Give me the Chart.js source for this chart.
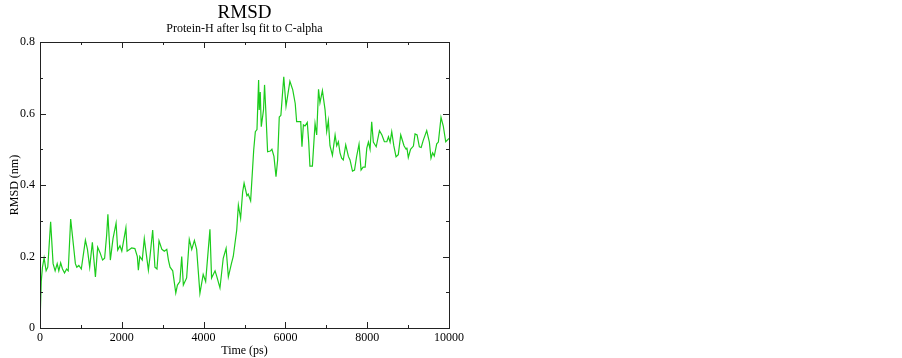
<!DOCTYPE html>
<html>
<head>
<meta charset="utf-8">
<script src="https://cdn.jsdelivr.net/npm/chart.js@4"></script>
<style>
  html, body { margin: 0; padding: 0; background: #fff; }
  #wrap { width: 902px; height: 358px; }
</style>
</head>
<body>
<div id="wrap"><canvas id="myChart" width="902" height="358"></canvas></div>
<script>
// 時間 (ps)
const times = [
  0, 30, 60, 100, 150, 190, 260, 320, 370, 420, 460, 505, 550, 600, 650, 690, 750, 865, 900, 950,
  1010, 1110, 1160, 1215, 1280, 1355, 1410, 1470, 1530, 1580, 1630, 1660, 1720, 1785, 1860, 1900, 1955, 2000, 2100, 2130,
  2240, 2320, 2380, 2405, 2440, 2500, 2550, 2650, 2690, 2755, 2810, 2860, 2910, 2980, 3040, 3100, 3140, 3180, 3245, 3320,
  3360, 3420, 3465, 3505, 3585, 3650, 3710, 3775, 3830, 3910, 3990, 4050, 4155, 4195, 4280, 4320, 4400, 4480, 4550, 4605,
  4680, 4725, 4810, 4850, 4905, 4955, 4990, 5060, 5090, 5150, 5225, 5265, 5305, 5345, 5360, 5385, 5410, 5465, 5490, 5520,
  5565, 5630, 5670, 5720, 5770, 5810, 5850, 5890, 5960, 6015, 6110, 6180, 6240, 6275, 6375, 6405, 6440, 6480, 6535, 6570,
  6600, 6660, 6700, 6725, 6765, 6810, 6845, 6905, 6970, 7010, 7050, 7090, 7150, 7215, 7255, 7295, 7335, 7375, 7415, 7475,
  7540, 7580, 7640, 7690, 7740, 7800, 7850, 7900, 7950, 7990, 8030, 8070, 8110, 8150, 8220, 8300, 8360, 8420, 8480, 8520,
  8560, 8600, 8650, 8705, 8760, 8820, 8900, 8950, 8970, 9005, 9060, 9130, 9170, 9220, 9275, 9320, 9370, 9455, 9520, 9560,
  9600, 9640, 9700, 9740, 9805, 9860, 9920, 10000
];

// RMSD (nm)
const rmsd = [
  0.01, 0.13, 0.17, 0.196, 0.16, 0.17, 0.297, 0.18, 0.16, 0.18, 0.16, 0.182, 0.165, 0.154, 0.165, 0.16, 0.305, 0.18, 0.17, 0.175,
  0.165, 0.246, 0.22, 0.17, 0.24, 0.143, 0.226, 0.21, 0.19, 0.195, 0.26, 0.318, 0.19, 0.25, 0.293, 0.218, 0.23, 0.215, 0.28, 0.215,
  0.224, 0.222, 0.2, 0.162, 0.2, 0.19, 0.25, 0.162, 0.2, 0.274, 0.17, 0.165, 0.244, 0.22, 0.215, 0.22, 0.19, 0.17, 0.16, 0.098,
  0.12, 0.13, 0.2, 0.12, 0.14, 0.248, 0.22, 0.245, 0.22, 0.097, 0.15, 0.13, 0.276, 0.14, 0.16, 0.145, 0.112, 0.195, 0.223, 0.143,
  0.18, 0.2, 0.274, 0.344, 0.307, 0.381, 0.405, 0.37, 0.375, 0.356, 0.498, 0.549, 0.555, 0.694, 0.61, 0.66, 0.563, 0.61, 0.68, 0.61,
  0.493, 0.495, 0.5, 0.48, 0.423, 0.47, 0.59, 0.595, 0.703, 0.62, 0.69, 0.666, 0.628, 0.577, 0.577, 0.507, 0.568, 0.565, 0.575, 0.52,
  0.453, 0.453, 0.526, 0.572, 0.54, 0.668, 0.63, 0.664, 0.61, 0.55, 0.58, 0.51, 0.483, 0.54, 0.51, 0.521, 0.49, 0.475, 0.47, 0.512,
  0.48, 0.47, 0.439, 0.442, 0.479, 0.514, 0.442, 0.45, 0.45, 0.503, 0.52, 0.5, 0.577, 0.52, 0.507, 0.552, 0.54, 0.521, 0.521, 0.535,
  0.52, 0.549, 0.51, 0.479, 0.485, 0.54, 0.51, 0.5, 0.505, 0.477, 0.5, 0.509, 0.543, 0.54, 0.507, 0.505, 0.525, 0.552, 0.52, 0.475,
  0.49, 0.481, 0.515, 0.52, 0.589, 0.565, 0.521, 0.53
];

const xMajor = [0, 2000, 4000, 6000, 8000, 10000];
const xMinor = [1000, 3000, 5000, 7000, 9000];
const yMajor = [0, 0.2, 0.4, 0.6, 0.8];
const yMinor = [0.1, 0.3, 0.5, 0.7];

const serif = "'Liberation Serif', 'DejaVu Serif', serif";

// 外框與朝內刻度
const framePlugin = {
  id: "frame",
  afterDraw(chart) {
    const { ctx, chartArea: a, scales } = chart;
    ctx.save();
    ctx.strokeStyle = "#222";
    ctx.lineWidth = 1;
    ctx.strokeRect(a.left + 0.5, a.top + 0.5, a.right - a.left, a.bottom - a.top);
    ctx.beginPath();
    const tickX = (v, len) => {
      const px = Math.round(scales.x.getPixelForValue(v)) + 0.5;
      ctx.moveTo(px, a.bottom); ctx.lineTo(px, a.bottom - len);
      ctx.moveTo(px, a.top); ctx.lineTo(px, a.top + len);
    };
    const tickY = (v, len) => {
      const py = Math.round(scales.y.getPixelForValue(v)) + 0.5;
      ctx.moveTo(a.left, py); ctx.lineTo(a.left + len, py);
      ctx.moveTo(a.right, py); ctx.lineTo(a.right - len, py);
    };
    xMajor.forEach(v => tickX(v, 6));
    xMinor.forEach(v => tickX(v, 3));
    yMajor.forEach(v => tickY(v, 6));
    yMinor.forEach(v => tickY(v, 3));
    ctx.stroke();

    // 標題
    const cx = (a.left + a.right) / 2;
    ctx.fillStyle = "#000";
    ctx.textAlign = "center";
    ctx.textBaseline = "middle";
    ctx.font = "19px " + serif;
    ctx.fillText("RMSD", cx, 13);
    ctx.font = "12px " + serif;
    ctx.fillText("Protein-H after lsq fit to C-alpha", cx, 29);
    ctx.restore();
  }
};

const ctx = document.querySelector("#myChart").getContext("2d");
new Chart(ctx, {
  type: "line",
  data: {
    datasets: [{
      label: "RMSD",
      data: times.map((t, i) => ({ x: t, y: rmsd[i] })),
      borderColor: "#1ccc1c",
      borderWidth: 1.2,
      pointRadius: 0,
      tension: 0,
      fill: false,
    }],
  },
  options: {
    responsive: false,
    animation: false,
    layout: { padding: { top: 42, right: 453, left: 0, bottom: 0 } },
    plugins: {
      legend: { display: false },
      tooltip: { enabled: false },
    },
    scales: {
      x: {
        type: "linear",
        min: 0,
        max: 10000,
        grid: { display: false, drawTicks: false },
        border: { display: false },
        ticks: {
          stepSize: 2000,
          padding: 3,
          color: "#000",
          font: { family: serif, size: 12 },
          maxRotation: 0,
          callback: v => String(v),
        },
        title: {
          display: true,
          text: "Time (ps)",
          color: "#000",
          font: { family: serif, size: 12 },
          padding: { top: 0, bottom: 0 },
        },
        afterFit: s => { s.height = 30; },
      },
      y: {
        min: 0,
        max: 0.8,
        grid: { display: false, drawTicks: false },
        border: { display: false },
        ticks: {
          stepSize: 0.2,
          padding: 5,
          color: "#000",
          font: { family: serif, size: 12 },
          callback: v => String(Math.round(v * 10) / 10),
        },
        title: {
          display: true,
          text: "RMSD (nm)",
          color: "#000",
          font: { family: serif, size: 12 },
          padding: { top: 8, bottom: 0 },
        },
        afterFit: s => { s.width = 40; },
      },
    },
  },
  plugins: [framePlugin],
});
</script>
</body>
</html>
